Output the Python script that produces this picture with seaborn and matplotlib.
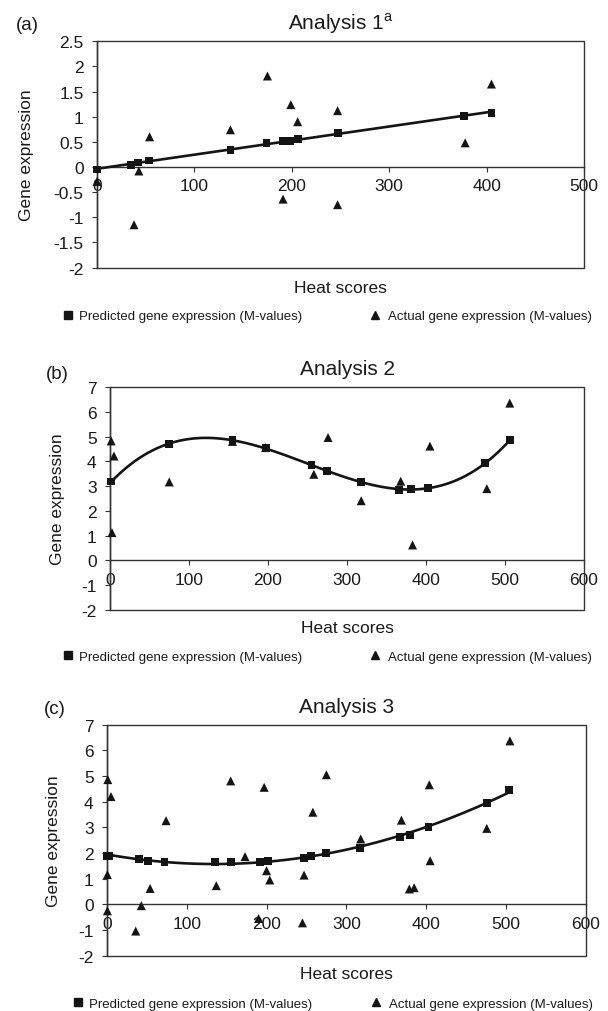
import numpy as np
import matplotlib
matplotlib.use("Agg")
import matplotlib.pyplot as plt
import seaborn as sns
from matplotlib.patches import Rectangle
from matplotlib.lines import Line2D
from matplotlib.ticker import FuncFormatter

# ---------------- data ----------------
# Panel (a) Analysis 1
a_pred_x = [0, 35, 42, 53, 137, 174, 191, 198, 206, 247, 377, 405]
a_pred_y = [-0.05, 0.04, 0.09, 0.13, 0.33, 0.47, 0.51, 0.51, 0.56, 0.67, 1.02, 1.08]
a_act_x = [0, 38, 43, 54, 137, 175, 191, 199, 206, 247, 247, 378, 405]
a_act_y = [-0.29, -1.15, -0.08, 0.60, 0.74, 1.81, -0.64, 1.24, 0.90, 1.12, -0.75, 0.48, 1.65]

# Panel (b) Analysis 2
b_pred_x = [1.5, 75, 155, 197, 255, 275, 318, 366, 381, 402, 475, 506]
b_pred_y = [3.19, 4.69, 4.87, 4.53, 3.86, 3.62, 3.17, 2.84, 2.88, 2.92, 3.92, 4.87]
b_act_x = [1.5, 5, 2.5, 75, 155, 197, 258, 276, 318, 368, 383, 405, 477, 506]
b_act_y = [4.83, 4.22, 1.12, 3.17, 4.81, 4.56, 3.48, 4.97, 2.41, 3.20, 0.62, 4.62, 2.90, 6.36]

# Panel (c) Analysis 3
c_pred_x = [0, 3, 40, 51, 72, 135, 155, 192, 202, 247, 256, 274, 317, 367, 380, 403, 476, 504]
c_pred_y = [1.90, 1.90, 1.77, 1.70, 1.66, 1.64, 1.64, 1.65, 1.69, 1.81, 1.90, 2.00, 2.21, 2.61,
            2.70, 3.03, 3.94, 4.47]
c_act_x = [1, 5, 0.5, 0.5, 36, 43, 54, 74, 137, 155, 173, 197, 200, 204, 190, 247, 245, 258,
           275, 318, 369, 379, 385, 404, 405, 476, 505]
c_act_y = [4.86, 4.20, 1.16, -0.25, -1.04, -0.05, 0.62, 3.26, 0.73, 4.81, 1.86, 4.56, 1.31,
           0.95, -0.55, 1.14, -0.72, 3.59, 5.05, 2.55, 3.28, 0.60, 0.65, 4.66, 1.70, 2.96, 6.37]

titles = [r"Analysis 1$^{\mathrm{a}}$", "Analysis 2", "Analysis 3"]
panel_tags = ["(a)", "(b)", "(c)"]
fit_orders = [1, 3, 2]
x_ticks = [[0, 100, 200, 300, 400, 500], [0, 100, 200, 300, 400, 500, 600],
           [0, 100, 200, 300, 400, 500, 600]]
y_ticks = [[-2, -1.5, -1, -0.5, 0, 0.5, 1, 1.5, 2, 2.5],
           [-2, -1, 0, 1, 2, 3, 4, 5, 6, 7],
           [-2, -1, 0, 1, 2, 3, 4, 5, 6, 7]]
legend_labels = ["Predicted gene expression (M-values)", "Actual gene expression (M-values)"]

# ---------------- styling ----------------
sns.set_theme(style="white")
plt.rcParams["font.family"] = ["Liberation Sans", "DejaVu Sans"]
plt.rcParams["axes.unicode_minus"] = False
plt.rcParams["mathtext.fontset"] = "custom"
plt.rcParams["mathtext.rm"] = "Liberation Sans"

W, H = 608, 1012
fig = plt.figure(figsize=(W / 100, H / 100), dpi=100)
INK = "#141414"
FRAME = "#333333"

# layout in pixels: left, right, top, bottom
boxes = [(97, 584, 42.3, 268.5), (110, 584, 388.3, 610.7), (107, 585.7, 725.7, 956.7)]
tag_pos = [(27, 26), (57.5, 375), (55, 710)]
title_base = [29.3, 375, 713]
xlabel_base = [292.7, 633.3, 979.3]
ylabel_x = [26.5, 57.5, 54]
legend_y = [317, 657.5, 1004.5]
legend_sq_x = [68, 68, 78]
legend_tri_x = [375, 374.5, 376]

panels = [
    (a_pred_x, a_pred_y, a_act_x, a_act_y),
    (b_pred_x, b_pred_y, b_act_x, b_act_y),
    (c_pred_x, c_pred_y, c_act_x, c_act_y),
]

LEG_FS = 9.5
leg_px = LEG_FS * 100 / 72

for i, (px_, py_, ax_, ay_) in enumerate(panels):
    l, r, t, b = boxes[i]
    ax = fig.add_axes([l / W, 1 - b / H, (r - l) / W, (b - t) / H])

    sns.scatterplot(x=ax_, y=ay_, marker="^", s=42, color=INK, edgecolor="none",
                    ax=ax, clip_on=False, zorder=3)
    sns.regplot(x=px_, y=py_, order=fit_orders[i], ci=None, scatter=False, truncate=True,
                ax=ax, line_kws=dict(color=INK, lw=1.9, zorder=4))
    sns.scatterplot(x=px_, y=py_, marker="s", s=32, color=INK, edgecolor="none",
                    ax=ax, clip_on=False, zorder=5)

    ax.set_xlim(x_ticks[i][0], x_ticks[i][-1])
    ax.set_ylim(y_ticks[i][0], y_ticks[i][-1])
    ax.set_xticks(x_ticks[i])
    ax.set_yticks(y_ticks[i])
    fmt = FuncFormatter(lambda v, p: f"{v:g}")
    ax.xaxis.set_major_formatter(fmt)
    ax.yaxis.set_major_formatter(fmt)

    for s in ["top", "right"]:
        ax.spines[s].set_visible(False)
    ax.spines["bottom"].set_position(("data", 0))
    for s in ["left", "bottom"]:
        ax.spines[s].set_color(FRAME)
        ax.spines[s].set_linewidth(1.0)
    ax.add_patch(Rectangle((0, 0), 1, 1, transform=ax.transAxes, fill=False,
                           ec=FRAME, lw=1.0, zorder=2, clip_on=False))

    ax.tick_params(axis="both", direction="out", length=3.6, width=0.8, color=FRAME,
                   labelsize=12.5, labelcolor="#1a1a1a")
    ax.tick_params(axis="x", bottom=True, pad=4.5)
    ax.tick_params(axis="y", left=True, pad=6)

    cx = (l + r) / 2 / W
    ax.set_xlabel("Heat scores", fontsize=12.5, color="#1a1a1a", va="baseline")
    ax.xaxis.set_label_coords(cx, 1 - xlabel_base[i] / H, transform=fig.transFigure)
    ax.set_ylabel("Gene expression", fontsize=12.5, color="#1a1a1a", va="center")
    ax.yaxis.set_label_coords(ylabel_x[i] / W, 1 - (t + b) / 2 / H, transform=fig.transFigure)

    fig.text(cx, 1 - title_base[i] / H, titles[i], ha="center", va="baseline",
             fontsize=15, color="#1a1a1a")
    fig.text(tag_pos[i][0] / W, 1 - tag_pos[i][1] / H, panel_tags[i], ha="center",
             va="center", fontsize=13.5, color="#1a1a1a")

    # legends
    h_sq = Line2D([], [], marker="s", ls="none", color=INK, markersize=5.6)
    h_tri = Line2D([], [], marker="^", ls="none", color=INK, markersize=6.2)
    for h, lab, mx, htp in [(h_sq, legend_labels[0], legend_sq_x[i], 0.47),
                            (h_tri, legend_labels[1], legend_tri_x[i], 0.62)]:
        x0 = mx - 0.4 * leg_px
        fig.legend(handles=[h], labels=[lab], loc="center left",
                   bbox_to_anchor=(x0 / W, 1 - legend_y[i] / H), frameon=False,
                   fontsize=LEG_FS, handlelength=0.8, handletextpad=htp,
                   borderpad=0, borderaxespad=0, labelcolor="#1a1a1a")

fig.savefig("out.png", dpi=100)
